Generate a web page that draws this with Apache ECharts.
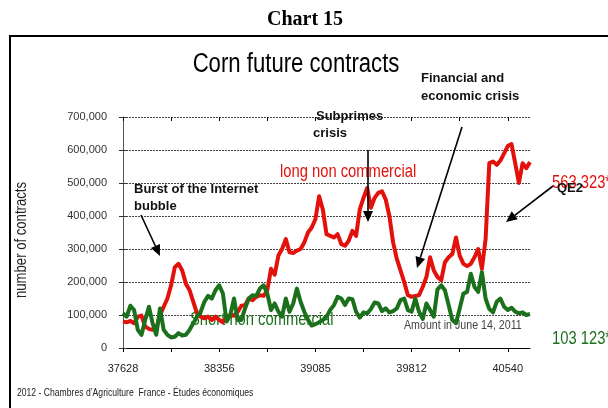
<!DOCTYPE html>
<html>
<head>
<meta charset="utf-8">
<script src="https://cdn.jsdelivr.net/npm/echarts@6/dist/echarts.min.js"></script>
<style>
  html, body { margin: 0; padding: 0; background: #fff; }
  #chart { width: 608px; height: 408px; }
</style>
</head>
<body>
<div id="chart"></div>
<script>
// Weekly CFTC positions on corn futures, sampled every four weeks.
// Dates are spreadsheet serial day numbers.
const FIRST_DAY = 37628;
const STEP_DAYS = 28;
const LAST_DAY = 40708; // June 14, 2011

const longNonCommercial = [
  80000, 78000, 82000, 75000, 95000, 98000, 65000, 58000, 55000, 60000,
  100000, 125000, 150000, 190000, 245000, 255000, 235000, 195000, 175000, 140000,
  105000, 95000, 90000, 95000, 85000, 95000, 85000, 78000, 95000, 100000,
  98000, 110000, 128000, 130000, 150000, 145000, 155000, 160000, 158000, 175000,
  240000, 222000, 280000, 300000, 330000, 290000, 288000, 295000, 300000, 320000,
  350000, 365000, 390000, 460000, 420000, 345000, 340000, 335000, 345000, 315000,
  310000, 325000, 355000, 340000, 420000, 455000, 485000, 425000, 455000, 470000,
  475000, 450000, 400000, 320000, 270000, 235000, 200000, 160000, 155000, 158000,
  160000, 185000, 215000, 275000, 235000, 215000, 205000, 260000, 275000, 285000,
  335000, 280000, 255000, 248000, 255000, 275000, 300000, 240000, 330000, 560000,
  565000, 555000, 568000, 590000, 612000, 618000, 560000, 500000, 560000, 545000, 563323
];

const shortNonCommercial = [
  105000, 95000, 128000, 115000, 55000, 40000, 85000, 125000, 75000, 40000,
  120000, 55000, 40000, 32000, 34000, 45000, 38000, 40000, 55000, 75000,
  95000, 110000, 140000, 158000, 150000, 175000, 190000, 165000, 80000, 100000,
  150000, 85000, 85000, 120000, 150000, 160000, 158000, 180000, 190000, 165000,
  115000, 135000, 110000, 95000, 150000, 110000, 135000, 180000, 140000, 110000,
  85000, 68000, 72000, 78000, 85000, 95000, 115000, 130000, 155000, 150000,
  130000, 150000, 148000, 110000, 92000, 108000, 105000, 118000, 138000, 135000,
  112000, 120000, 108000, 112000, 120000, 145000, 150000, 115000, 110000, 150000,
  110000, 88000, 135000, 115000, 95000, 178000, 190000, 175000, 130000, 85000,
  75000, 120000, 165000, 170000, 225000, 185000, 170000, 230000, 150000, 118000,
  108000, 140000, 150000, 125000, 115000, 122000, 110000, 105000, 108000, 100000, 103123
];

const xTickDays = [37628, 37992, 38356, 38720, 39085, 39449, 39812, 40176, 40540];
const xLabelDays = [37628, 38356, 39085, 39812, 40540];
const Y_MAX = 700000;
const Y_STEP = 100000;

const SANS = "'Liberation Sans', Arial, sans-serif";
const NARROW_SCALE = 0.82; // condensed look drawn from the regular face
const RED = '#e2110c';
const GREEN = '#1b701b';

const toPoints = arr => arr.map((v, i) => [FIRST_DAY + STEP_DAYS * i, v]);

function xAxisDef(inside) {
  return {
    type: 'value',
    min: FIRST_DAY,
    max: LAST_DAY,
    axisLine: { show: !inside, onZero: false, lineStyle: { color: '#000', width: 1 } },
    axisTick: { show: true, inside: inside, length: 4, customValues: xTickDays,
                lineStyle: { color: '#000', width: 1 } },
    axisLabel: { show: !inside, customValues: xLabelDays, margin: 15,
                 fontFamily: SANS, fontSize: 11, color: '#222',
                 formatter: v => String(v) },
    splitLine: { show: false }
  };
}

function yAxisDef(inside) {
  return {
    type: 'value',
    position: 'left',
    min: 0,
    max: Y_MAX,
    interval: Y_STEP,
    axisLine: { show: !inside, lineStyle: { color: '#555', width: 1 } },
    axisTick: { show: true, inside: inside, length: 4, lineStyle: { color: '#333', width: 1 } },
    axisLabel: { show: !inside, margin: 16, fontFamily: SANS, fontSize: 11, color: '#333',
                 formatter: v => v.toLocaleString('en-US') },
    splitLine: { show: !inside, lineStyle: { color: '#444', width: 1, type: [2, 1] } }
  };
}

function arrow(x1, y1, x2, y2) {
  const dx = x2 - x1, dy = y2 - y1, len = Math.hypot(dx, dy);
  const ux = dx / len, uy = dy / len;
  const head = 11, half = 5;
  const bx = x2 - ux * head, by = y2 - uy * head;
  const px = -uy, py = ux;
  return [
    { type: 'line', z: 20, shape: { x1, y1, x2: bx, y2: by },
      style: { stroke: '#000', lineWidth: 1.6 } },
    { type: 'polygon', z: 20,
      shape: { points: [[x2, y2], [bx + px * half, by + py * half], [bx - px * half, by - py * half]] },
      style: { fill: '#000' } }
  ];
}

// Plain text block anchored at its top-left corner.
function label(text, x, y, font, fill, extra) {
  return Object.assign({ type: 'text', z: 1, x, y,
    style: { text, font, fill, textAlign: 'left', textVerticalAlign: 'top' } }, extra || {});
}
// Condensed text block anchored at its top-left corner.
function narrow(text, x, y, size, fill, extra) {
  return label(text, x, y, size + 'px ' + SANS, fill,
    Object.assign({ scaleX: NARROW_SCALE }, extra || {}));
}

const BOLD13 = 'bold 13px ' + SANS;

const chart = echarts.init(document.getElementById('chart'), null, { renderer: 'canvas' });
chart.setOption({
  animation: false,
  backgroundColor: '#fff',
  grid: { left: 123, right: 78, top: 117, bottom: 60 },
  xAxis: [xAxisDef(false), xAxisDef(true)],
  yAxis: [yAxisDef(false), yAxisDef(true)],
  series: [
    { name: 'long non commercial', type: 'line', data: toPoints(longNonCommercial),
      showSymbol: false, z: 3, lineStyle: { color: RED, width: 4, join: 'round' },
      itemStyle: { color: RED } },
    { name: 'Short non commercial', type: 'line', data: toPoints(shortNonCommercial),
      showSymbol: false, z: 4, lineStyle: { color: GREEN, width: 4, join: 'round' },
      itemStyle: { color: GREEN } }
  ],
  graphic: [
    { type: 'rect', z: 30, shape: { x: 10, y: 36, width: 700, height: 420 },
      style: { fill: 'none', stroke: '#000', lineWidth: 2 } },
    { type: 'text', z: 5, x: 305, y: 20,
      style: { text: 'Chart 15', font: "bold 20px 'Liberation Serif', 'Times New Roman', serif",
               fill: '#000', textAlign: 'center', textVerticalAlign: 'middle' } },
    { type: 'text', z: 5, x: 296, y: 65, scaleX: NARROW_SCALE,
      style: { text: 'Corn future contracts', font: '27px ' + SANS,
               fill: '#000', textAlign: 'center', textVerticalAlign: 'middle' } },
    label('Financial and', 421, 72, BOLD13, '#111'),
    label('economic crisis', 421, 90, BOLD13, '#111'),
    label('Subprimes', 316, 110, BOLD13, '#111'),
    label('crisis', 313, 127, BOLD13, '#111'),
    label('Burst of the Internet', 134, 183, BOLD13, '#111'),
    label('bubble', 134, 200, BOLD13, '#111'),
    narrow('long non commercial', 280, 163, 18, RED),
    narrow('563 323*', 552, 174, 18, RED),
    label('QE2', 557, 182, BOLD13, '#111', { z: 6 }),
    narrow('Short non commercial', 190, 311, 18, GREEN),
    narrow('Amount in June 14, 2011', 404, 319, 13, '#444'),
    narrow('103 123*', 552, 330, 18, GREEN),
    { type: 'text', z: 5, x: 22, y: 240, rotation: Math.PI / 2, scaleX: NARROW_SCALE,
      style: { text: 'number of contracts', font: '16px ' + SANS, fill: '#222',
               textAlign: 'center', textVerticalAlign: 'middle' } },
    narrow('2012 - Chambres d\u2019Agriculture  France - \u00c9tudes \u00e9conomiques', 17, 388,
           10.5, '#222'),
    ...arrow(141, 215, 160, 256),
    ...arrow(368, 150, 368, 222),
    ...arrow(462, 127, 417, 268),
    ...arrow(553, 186, 506, 222)
  ]
});
</script>
</body>
</html>
